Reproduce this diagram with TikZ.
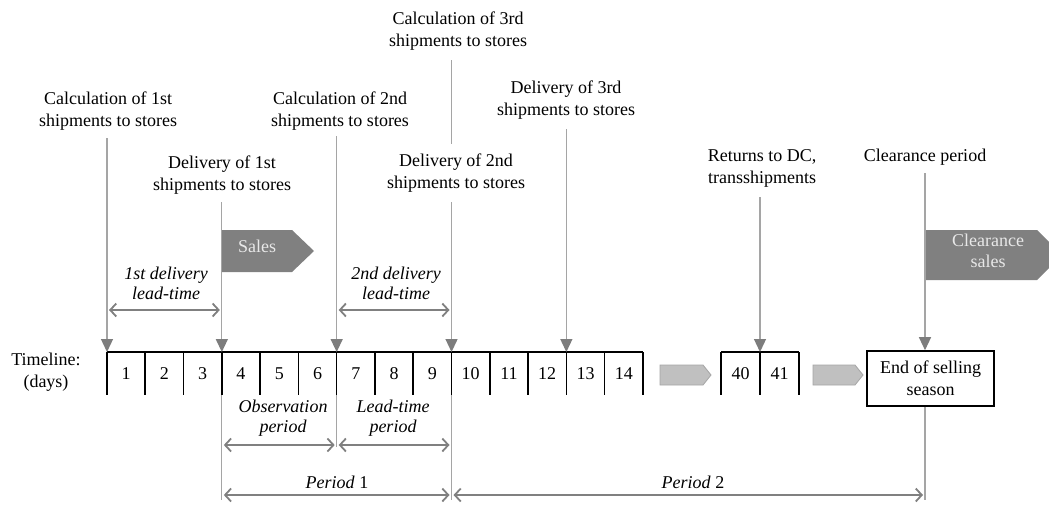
\documentclass[tikz,border=0pt]{standalone}
\usepackage{fontspec}
\setmainfont{Liberation Serif}
\usetikzlibrary{arrows.meta,calc}
\definecolor{lgray}{RGB}{165,165,165}
\definecolor{agray}{RGB}{125,125,125}
\definecolor{dgray}{RGB}{128,128,128}
\definecolor{cgray}{RGB}{192,192,192}
\definecolor{cborder}{RGB}{165,165,165}
\definecolor{txtlight}{RGB}{232,232,232}
\begin{document}
\begin{tikzpicture}[x=1pt,y=-1pt,
  lbl/.style={align=center,font=\fontsize{18}{22}\selectfont,inner sep=2pt},
  ilbl/.style={align=center,font=\fontsize{18}{20}\selectfont\itshape,inner sep=2pt},
  wlbl/.style={align=center,font=\fontsize{18}{22}\selectfont,text=txtlight,inner sep=0pt},
  num/.style={font=\fontsize{18}{22}\selectfont,inner sep=0pt},
  pointer/.style={draw=lgray,line width=1.3pt,-{Triangle[width=12pt,length=13pt,color=agray,fill=agray]}},
  guide/.style={draw=lgray,line width=1.3pt},
  span/.style={draw=dgray,line width=1.8pt,{Straight Barb[length=6pt,width=13pt]}-{Straight Barb[length=6pt,width=13pt]},shorten <=2pt,shorten >=2pt},
  tl/.style={draw=black,line width=1.6pt},
  chevron/.style={fill=cgray,draw=cborder,line width=0.8pt},
  salesshape/.style={fill=dgray}
]
\clip (0,0) rectangle (1049,504);
\fill[white] (0,0) rectangle (1049,504);

% timeline coordinates
\foreach \i in {0,...,14} \coordinate (t\i) at ({107+38.28*\i},352);
\coordinate (s0) at (721,352);
\coordinate (s1) at (760,352);
\coordinate (s2) at (799,352);
\coordinate (lt) at (0,310);
\coordinate (ob) at (0,445);
\coordinate (pb) at (0,495);
\coordinate (pe) at (0,500);
\coordinate (tb) at (0,395);

% timeline
\draw[tl] (t0) -- (t14);
\foreach \i in {0,...,14} \draw[tl] (t\i) -- (t\i |- tb);
\foreach \i in {1,...,14} \node[num] (d\i) at ({107+38.28*(\i-0.5)},374) {\i};
\draw[tl] (s0) -- (s2);
\foreach \i in {0,1,2} \draw[tl] (s\i) -- (s\i |- tb);
\node[num] (d40) at (740.5,374) {40};
\node[num] (d41) at (779.5,374) {41};

\node[lbl,inner sep=0pt] (timeline) at (46,372) {Timeline:\\(days)};

% chevrons
\draw[chevron] (660,365) -- (703,365) -- (711,375) -- (703,385) -- (660,385) -- cycle;
\draw[chevron] (813,365) -- (855,365) -- (863,375) -- (855,385) -- (813,385) -- cycle;

% end box
\node[lbl,draw,line width=1.6pt,minimum width=127pt,minimum height=55pt,inner sep=0pt] (end) at (930.5,378.5) {End of selling\\season};

% top labels
\node[lbl] (calc1) at (108,111) {Calculation of 1st\\shipments to stores};
\node[lbl] (del1) at (222,175) {Delivery of 1st\\shipments to stores};
\node[lbl] (calc2) at (340,111) {Calculation of 2nd\\shipments to stores};
\node[lbl] (calc3) at (458,31) {Calculation of 3rd\\shipments to stores};
\node[lbl] (del2) at (456,173) {Delivery of 2nd\\shipments to stores};
\node[lbl] (del3) at (566,100) {Delivery of 3rd\\shipments to stores};
\node[lbl] (ret) at (762,168) {Returns to DC,\\transshipments};
\node[lbl] (clr) at (925,157) {Clearance period};

% pointers
\draw[pointer,shorten <=6pt] (calc1.south -| t0) -- (t0);
\draw[pointer,shorten <=6pt] (del1.south -| t3) -- (t3);
\draw[pointer,shorten <=4pt] (calc2.south -| t6) -- (t6);
\draw[guide,shorten <=8pt,shorten >=8pt] (calc3.south -| t9) -- (del2.north -| t9);
\draw[pointer,shorten <=8pt] (del2.south -| t9) -- (t9);
\draw[pointer,shorten <=8pt] (del3.south -| t12) -- (t12);
\draw[pointer,shorten <=8pt] (ret.south -| s1) -- (s1);
\draw[pointer,shorten <=6pt] (clr.south) -- (clr.south |- end.north);

% sales shapes
\fill[salesshape] (222,230) -- (292,230) -- (314,251) -- (292,272) -- (222,272) -- cycle;
\node[wlbl] (sales) at (257,246) {Sales};
\fill[salesshape] (926,230) -- (1037,230) -- (1062,255) -- (1037,280) -- (926,280) -- cycle;
\node[wlbl,font=\fontsize{18}{21}\selectfont] (csales) at (988,251) {Clearance\\sales};

% delivery lead times
\node[ilbl] (lt1) at (166,283) {1st delivery\\lead-time};
\draw[span] (t0 |- lt) -- (t3 |- lt);
\node[ilbl] (lt2) at (396,283) {2nd delivery\\lead-time};
\draw[span] (t6 |- lt) -- (t9 |- lt);

% guides below timeline
\draw[guide] (t3 |- tb) -- (t3 |- pe);
\draw[guide] (t6 |- tb) -- ($(t6 |- ob)+(0,2)$);
\draw[guide] (t9 |- tb) -- (t9 |- pe);
\draw[guide] (clr.south |- end.south) -- (clr.south |- pe);

% observation / lead-time period
\node[ilbl] (obs) at (283,418) {Observation\\period};
\draw[span] (t3 |- ob) -- (t6 |- ob);
\node[ilbl] (ltp) at (393,418) {Lead-time\\period};
\draw[span] (t6 |- ob) -- (t9 |- ob);

% periods
\node[lbl] (per1) at (337,482) {\textit{Period} 1};
\draw[span] (t3 |- pb) -- (t9 |- pb);
\node[lbl] (per2) at (693,482) {\textit{Period} 2};
\draw[span] (t9 |- pb) -- (clr.south |- pb);
\end{tikzpicture}
\end{document}
